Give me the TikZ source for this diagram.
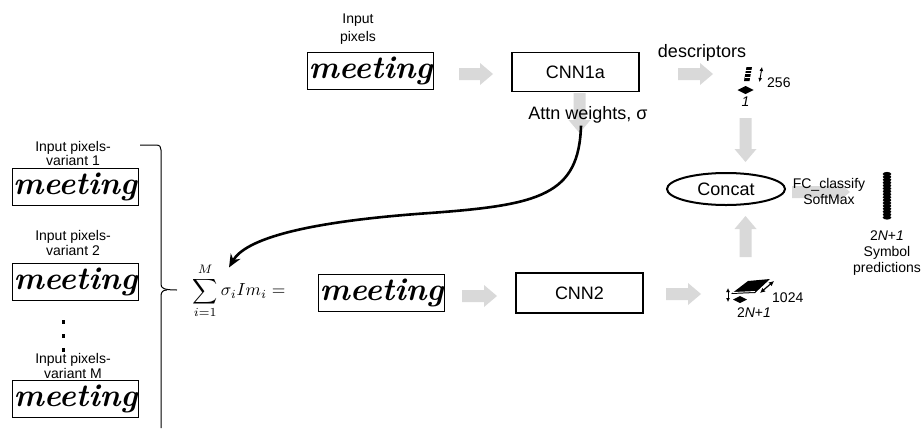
\documentclass[tikz,border=0pt]{standalone}
\usepackage{fontspec}
\newfontfamily\arial{Liberation Sans}
\usetikzlibrary{shapes.geometric,arrows.meta}
\definecolor{arrowgray}{HTML}{D9D9D9}
\newcommand\handw{\normalfont\bfseries\itshape\fontsize{32}{32}\selectfont}
\tikzset{
  pics/garrow/.style={code={%
    \fill[arrowgray] (0,-6) -- ({#1-13},-6) -- ({#1-13},-11) -- (#1,0) -- ({#1-13},11) -- ({#1-13},6) -- (0,6) -- cycle;}},
  lbl/.style={font=\arial\fontsize{18}{21}\selectfont, inner sep=0},
  sml/.style={font=\arial\fontsize{14}{16}\selectfont, align=center, inner sep=0},
  tight/.style={font=\arial\fontsize{14}{14.5}\selectfont},
  netbox/.style={draw, line width=1.6, minimum width=127, minimum height=39, inner sep=0, font=\arial\fontsize{18}{21}\selectfont},
  imgbox/.style={draw, line width=0.8, minimum width=126, minimum height=37, inner sep=0, font=\handw},
}
\begin{document}
\begin{tikzpicture}[x=1pt,y=-1pt]
\useasboundingbox[fill=white] (0,0) rectangle (924,429);

% gray block arrows (behind texts)
\pic (ga1) at (459,74) {garrow=34};
\pic (ga2) at (678,74) {garrow=35};
\pic[rotate=-90] (ga3) at (579.5,93) {garrow=40};
\pic[rotate=-90] (ga4) at (745.5,118) {garrow=44};
\pic[rotate=90] (ga5) at (745.5,257) {garrow=41};
\pic (ga6) at (792,192) {garrow=58};
\pic (ga7) at (462,296) {garrow=35};
\pic (ga8) at (666,294) {garrow=35};

% top row
\node[sml, font=\arial\fontsize{14}{18}\selectfont] (inp) at (358,29) {Input\\pixels};
\node[imgbox] (img0) at (370.5,71) {meeting};
\node[netbox] (cnn1) at (575.5,72) {CNN1a};
\node[lbl] (desc) at (702,53) {descriptors};
\node[lbl] (attn) at (588,115) {Attn weights, σ};

% descriptor icon
\fill (744,81) -- (746.5,67) -- (752,67) -- (749.5,81) -- cycle;
\foreach \yy in {70,73.5,77}{\draw[white, line width=0.6] (745,\yy) -- (752,\yy);}
\draw[line width=0.9, {Latex[length=4pt,width=4pt]}-{Latex[length=4pt,width=4pt]}] (762,67) -- (759.5,82);
\node[sml, anchor=west] (n256) at (767,83) {256};
\fill (737.5,90) -- (745.5,86) -- (753.5,90) -- (745.5,94) -- cycle;
\node[sml, font=\arial\itshape\fontsize{14}{16}\selectfont] (n1) at (745.5,102) {1};

% concat and classifier
\node[draw, ellipse, line width=2, minimum width=118, minimum height=32, inner sep=0, font=\arial\fontsize{18}{21}\selectfont] (concat) at (726,189) {Concat};
\node[sml] (fc) at (829,191) {FC\_classify\\SoftMax};
\foreach \k in {0,...,15}{\fill (887,{174+2.9*\k}) ellipse (4.3 and 2.1);}
\node[sml] (pred) at (887,253) {2\textit{N}+\textit{1}\\Symbol\\predictions};

% bottom row
\node[scale=1.75, inner sep=0] (sum) at (239,291) {$\displaystyle\sum_{i=1}^{M}\sigma_i Im_i =$};
\node[imgbox] (imgmid) at (381.5,292.5) {meeting};
\node[netbox, minimum height=40] (cnn2) at (579.5,293) {CNN2};

% CNN2 output icon
\fill (731,294) -- (748,281) -- (770,279) -- (755,293) -- cycle;
\draw[white, line width=0.9] (733,292.5) -- (755,291.5);
\draw[line width=0.9, {Latex[length=4pt,width=4pt]}-{Latex[length=4pt,width=4pt]}] (728,288) -- (728,302);
\draw[line width=1.2, {Latex[length=5pt,width=5pt]}-{Latex[length=5pt,width=5pt]}] (774,281) -- (760,293);
\fill (733,299.5) -- (740,296) -- (747,299.5) -- (740,303) -- cycle;
\node[sml, anchor=west] (n1024) at (772,298) {1024};
\node[sml] (n2n) at (754,313) {2\textit{N}+\textit{1}};

% left column
\node[sml, tight] (v1) at (73,153.5) {Input pixels-\\variant 1};
\node[imgbox] (im1) at (75,186.5) {meeting};
\node[sml, tight] (v2) at (73,243) {Input pixels-\\variant 2};
\node[imgbox] (im2) at (75.5,282) {meeting};
\foreach \yy in {322,336,350}{\fill (61.5,\yy-1.7) rectangle (65,\yy+1.7);}
\node[sml, tight] (vM) at (73,366) {Input pixels-\\variant M};
\node[imgbox] (imM) at (75.5,399) {meeting};

% brace
\draw[line width=1] (140,145) -- (156,145) .. controls (160,145) and (161,147) .. (161,150) -- (161,284) .. controls (161,288) and (163,290) .. (177,290);
\draw[line width=1] (161,428) -- (161,296) .. controls (161,292) and (163,290) .. (167,290);

% attention connector
\coordinate (cs) at ([xshift=-7pt,yshift=-2pt]attn.south);
\coordinate (ce) at ([xshift=-10pt,yshift=-4pt]sum.north);
\draw[line width=2.6, -{Stealth[length=13pt,width=11pt]}] (cs) .. controls (579,195) and (540,205) .. (430,213) .. controls (300,222) and (245,240) .. (ce);
\end{tikzpicture}
\end{document}
